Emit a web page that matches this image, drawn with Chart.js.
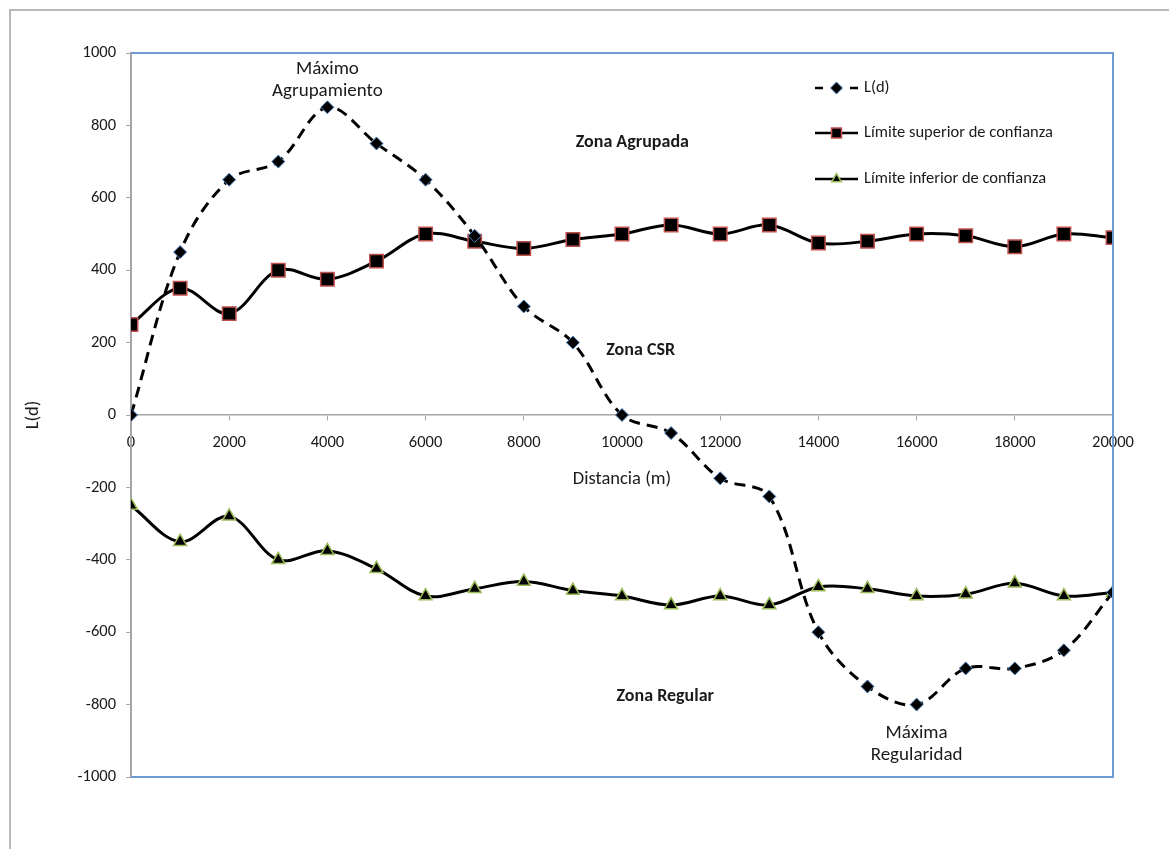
<!DOCTYPE html>
<html>
<head>
<meta charset="utf-8">
<script src="https://cdn.jsdelivr.net/npm/chart.js@4/dist/chart.umd.min.js"></script>
<style>
  html, body { margin: 0; padding: 0; background: #ffffff; }
  #wrap { width: 1169px; height: 849px; position: relative; }
</style>
</head>
<body>
<div id="wrap"><canvas id="c"></canvas></div>
<script>
// Distances (m) and the Ripley L(d) curve with its confidence envelope
const distances = [0, 1000, 2000, 3000, 4000, 5000, 6000, 7000, 8000, 9000, 10000,
                   11000, 12000, 13000, 14000, 15000, 16000, 17000, 18000, 19000, 20000];
const lValues = [0, 450, 650, 700, 850, 750, 650, 495, 300, 200, 0,
                 -50, -175, -225, -600, -750, -800, -700, -700, -650, -490];
const upperLimit = [250, 350, 280, 400, 375, 425, 500, 480, 460, 485, 500,
                    525, 500, 525, 475, 480, 500, 495, 465, 500, 490];
const lowerLimit = [-250, -350, -280, -400, -375, -425, -500, -480, -460, -485, -500,
                    -525, -500, -525, -475, -480, -500, -495, -465, -500, -490];
const xTickValues = [0, 2000, 4000, 6000, 8000, 10000, 12000, 14000, 16000, 18000, 20000];
const yTickValues = [-1000, -800, -600, -400, -200, 0, 200, 400, 600, 800, 1000];
const seriesNames = ['L(d)', 'Límite superior de confianza', 'Límite inferior de confianza'];

const FONT = 'Carlito, Calibri, Lato, sans-serif';
const TEXT = '#1a1a1a';

const toPoints = (ys) => distances.map((d, i) => ({ x: d, y: ys[i] }));

// Zone labels and extreme notes, anchored in data units
const notes = [
  { lines: ['Máximo', 'Agrupamiento'], x: 4000, y: 955, bold: false },
  { lines: ['Zona Agrupada'], x: 10210, y: 752, bold: true },
  { lines: ['Zona CSR'], x: 10380, y: 177, bold: true },
  { lines: ['Zona Regular'], x: 10880, y: -779, bold: true },
  { lines: ['Máxima', 'Regularidad'], x: 16000, y: -878, bold: false }
];

const framePlugin = {
  id: 'frame',
  beforeDraw(chart) {
    const { ctx } = chart;
    ctx.save();
    ctx.strokeStyle = '#b8b8b8';
    ctx.lineWidth = 2;
    ctx.beginPath();
    ctx.moveTo(10, 849);
    ctx.lineTo(10, 10);
    ctx.lineTo(1169, 10);
    ctx.stroke();
    ctx.restore();
  },
  afterDraw(chart) {
    const { ctx, chartArea: a } = chart;
    ctx.save();
    ctx.strokeStyle = '#6f9bd3';
    ctx.lineWidth = 2;
    ctx.beginPath();
    ctx.moveTo(a.left, a.top);
    ctx.lineTo(a.right, a.top);
    ctx.lineTo(a.right, a.bottom);
    ctx.lineTo(a.left, a.bottom);
    ctx.stroke();
    ctx.restore();
  }
};

const notesPlugin = {
  id: 'notes',
  afterDraw(chart) {
    const { ctx, scales } = chart;
    ctx.save();
    ctx.fillStyle = TEXT;
    ctx.textAlign = 'center';
    ctx.textBaseline = 'middle';
    notes.forEach(n => {
      ctx.font = (n.bold ? 'bold ' : '') + (n.bold ? '18px ' : '19px ') + FONT;
      const px = scales.x.getPixelForValue(n.x);
      const py = scales.y.getPixelForValue(n.y);
      n.lines.forEach((t, i) => ctx.fillText(t, px, py + i * 22));
    });
    ctx.restore();
  }
};

// Legend drawn inside the plot area, using each dataset's own styling
const legendPlugin = {
  id: 'insideLegend',
  afterDraw(chart) {
    const { ctx } = chart;
    const x0 = 815, x1 = 858, xm = 836.5, xt = 864;
    const rows = [88, 133, 179];
    ctx.save();
    chart.data.datasets.forEach((ds, i) => {
      const y = rows[i];
      ctx.strokeStyle = ds.borderColor;
      ctx.lineWidth = 2.5;
      ctx.beginPath();
      if (ds.borderDash && ds.borderDash.length) {
        ctx.moveTo(x0, y); ctx.lineTo(x0 + 8, y);
        ctx.moveTo(x1 - 8, y); ctx.lineTo(x1, y);
      } else {
        ctx.moveTo(x0, y); ctx.lineTo(x1, y);
      }
      ctx.stroke();
      ctx.fillStyle = ds.pointBackgroundColor;
      ctx.strokeStyle = ds.pointBorderColor;
      ctx.lineWidth = ds.pointBorderWidth;
      Chart.helpers.drawPoint(ctx, {
        pointStyle: ds.pointStyle,
        radius: ds.legendRadius,
        borderWidth: ds.pointBorderWidth
      }, xm, y);
      ctx.fillStyle = TEXT;
      ctx.font = '16.5px ' + FONT;
      ctx.textAlign = 'left';
      ctx.textBaseline = 'middle';
      ctx.fillText(ds.label, xt, y);
    });
    ctx.restore();
  }
};

const plainNumber = (v) => String(v);

new Chart(document.getElementById('c'), {
  type: 'line',
  data: {
    datasets: [
      {
        label: seriesNames[0],
        data: toPoints(lValues),
        borderColor: '#000000',
        borderWidth: 3,
        borderDash: [11, 7],
        tension: 0.35,
        pointStyle: 'rectRot',
        pointRadius: 6.5,
        legendRadius: 6,
        pointBackgroundColor: '#000000',
        pointBorderColor: '#4f81bd',
        pointBorderWidth: 1,
        fill: false
      },
      {
        label: seriesNames[1],
        data: toPoints(upperLimit),
        borderColor: '#000000',
        borderWidth: 3,
        tension: 0.35,
        pointStyle: 'rect',
        pointRadius: 9.5,
        legendRadius: 7,
        pointBackgroundColor: '#000000',
        pointBorderColor: '#c0504d',
        pointBorderWidth: 1.5,
        fill: false
      },
      {
        label: seriesNames[2],
        data: toPoints(lowerLimit),
        borderColor: '#000000',
        borderWidth: 3,
        tension: 0.35,
        pointStyle: 'triangle',
        pointRadius: 7.5,
        legendRadius: 5.5,
        pointBackgroundColor: '#000000',
        pointBorderColor: '#9bbb59',
        pointBorderWidth: 1.5,
        fill: false
      }
    ]
  },
  options: {
    responsive: true,
    maintainAspectRatio: false,
    animation: false,
    layout: { padding: { left: 0, top: 53, right: 56, bottom: 72 } },
    plugins: {
      legend: { display: false },
      tooltip: { enabled: false }
    },
    scales: {
      x: {
        type: 'linear',
        position: { y: 0 },
        min: 0,
        max: 20000,
        afterBuildTicks: (s) => { s.ticks = xTickValues.map(v => ({ value: v })); },
        afterFit: (s) => { s.height = 75; },
        grid: {
          drawOnChartArea: false,
          drawTicks: true,
          tickLength: 5,
          color: '#a6a6a6'
        },
        border: { color: '#a6a6a6', width: 1.5 },
        ticks: {
          color: TEXT,
          font: { family: FONT, size: 16.5 },
          padding: 13,
          maxRotation: 0,
          autoSkip: false,
          callback: plainNumber
        },
        title: {
          display: true,
          text: 'Distancia (m)',
          color: TEXT,
          font: { family: FONT, size: 18.5 },
          padding: { top: 0, bottom: 0 }
        }
      },
      y: {
        type: 'linear',
        position: 'left',
        min: -1000,
        max: 1000,
        afterBuildTicks: (s) => { s.ticks = yTickValues.map(v => ({ value: v })); },
        afterFit: (s) => { s.width = 131; },
        grid: {
          drawOnChartArea: false,
          drawTicks: true,
          tickLength: 5,
          color: '#a6a6a6'
        },
        border: { color: '#a6a6a6', width: 2 },
        ticks: {
          color: TEXT,
          font: { family: FONT, size: 16.5 },
          padding: 10,
          callback: plainNumber
        },
        title: {
          display: true,
          text: 'L(d)',
          color: TEXT,
          font: { family: FONT, size: 18.5 },
          padding: { top: 22, bottom: 0 }
        }
      }
    }
  },
  plugins: [framePlugin, notesPlugin, legendPlugin]
});
</script>
</body>
</html>
